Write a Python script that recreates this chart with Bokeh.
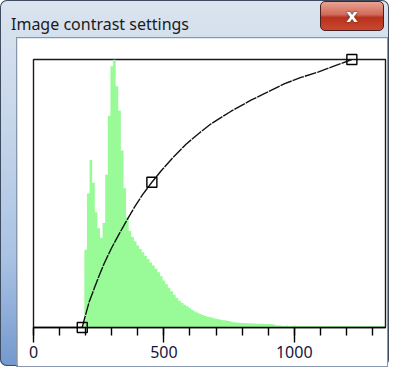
from bokeh.plotting import figure
from bokeh.models import Range1d, SingleIntervalTicker, Div, ColumnDataSource
from bokeh.layouts import column
from bokeh.embed import file_html
from bokeh.resources import INLINE

# ---- data ----
window_title = "Image contrast settings"
x_tick_interval = 500
x_max = 1350

# histogram: relative pixel counts, bins of width 10 starting at 195
hist_start = 195
hist_width = 10
hist_counts = [
    290, 500, 625, 540, 430, 370, 335, 390, 570, 790,
    975, 1000, 900, 810, 660, 520, 410, 360, 338, 322,
    306, 293, 281, 268, 256, 243, 231, 219, 206, 191,
    175, 161, 148, 135, 122, 111, 100, 92, 85, 79,
    72, 65, 60, 55, 50, 47, 43, 40, 38, 35,
    33, 31, 29, 27, 26, 24, 21, 20, 19, 18,
    17, 17, 16, 16, 15, 15, 14, 14, 14, 13,
    13, 13, 12, 8,
    7, 7, 6, 7, 6, 6, 7, 6, 6, 6,
    5, 6, 6, 6, 5, 6, 5, 6, 6, 5,
    5, 6, 5, 5, 6, 5, 5, 5, 6, 5,
    5, 4, 5, 5, 5, 4, 5, 5, 4, 5,
    4,
]

# contrast curve (input value -> output fraction)
curve_x = [187, 194, 213, 233, 252, 271, 298, 325, 355, 386, 417, 454, 489,
           535, 585, 635, 681, 758, 834, 899, 961, 1026, 1091, 1152, 1221]
curve_y = [0.0, 0.027, 0.094, 0.146, 0.194, 0.239, 0.294, 0.343, 0.395, 0.447,
           0.494, 0.542, 0.584, 0.634, 0.684, 0.725, 0.760, 0.807, 0.848, 0.879,
           0.909, 0.933, 0.953, 0.975, 1.0]

# control points
ctrl_x = [187, 454, 1221]
ctrl_y = [0.0, 0.542, 1.0]

# ---- figure ----
step_x = [hist_start + hist_width * i for i in range(len(hist_counts) + 1)]
step_y = hist_counts + [hist_counts[-1]]
hist_src = ColumnDataSource(dict(x=step_x, y2=step_y))

p = figure(width=370, height=328,
           x_range=Range1d(0, x_max), y_range=Range1d(0, max(hist_counts)),
           output_backend="svg", toolbar_location=None, y_axis_location=None,
           min_border_left=16, min_border_right=2, min_border_top=21,
           min_border_bottom=39, margin=(0, 2, 0, 17))
p.extra_y_ranges = {"out": Range1d(0, 1)}
p.grid.visible = False
p.background_fill_color = "white"
p.border_fill_color = "white"
p.outline_line_color = "#1a1a1a"
p.outline_line_width = 1.4
p.styles = {"outline": "1px solid #8796aa"}

p.varea_step(x="x", y1=0, y2="y2", step_mode="after", source=hist_src,
             fill_color="#98fb98")

p.line(curve_x, curve_y, y_range_name="out", line_color="#111111",
       line_width=1.4, line_dash="12 1")
sq = p.scatter(ctrl_x, ctrl_y, y_range_name="out", marker="square", size=10,
               fill_color=None, line_color="black", line_width=1.4)
sq.level = "overlay"

xa = p.xaxis[0]
xa.ticker = SingleIntervalTicker(interval=x_tick_interval, num_minor_ticks=5)
xa.axis_line_color = "black"
xa.axis_line_width = 1.4
xa.major_tick_line_color = "black"
xa.major_tick_line_width = 1.4
xa.minor_tick_line_color = "black"
xa.minor_tick_line_width = 1.4
xa.major_tick_out = 15
xa.major_tick_in = 0
xa.minor_tick_out = 8
xa.minor_tick_in = 0
xa.major_label_standoff = 3
xa.major_label_text_font = "Noto Sans"
xa.major_label_text_font_size = "16px"
xa.major_label_text_color = "#16163c"

title_html = (
    '<div style="position:relative;width:389px;height:38px;overflow:hidden;">'
    '<span style="position:absolute;left:11px;top:13px;font-family:\'Noto Sans\';'
    'font-size:16px;color:#1b1b1b;white-space:nowrap;">' + window_title + '</span>'
    '<div style="position:absolute;left:320px;top:1px;width:64px;height:30px;'
    'border:1px solid #4a2020;border-radius:5px;box-sizing:border-box;'
    'background:linear-gradient(180deg,#e9a393 0%,#d06a58 45%,#b8321f 55%,#c9482f 100%);'
    'color:white;font-family:\'DejaVu Sans\';font-weight:bold;font-size:18px;'
    'text-align:center;line-height:27px;text-shadow:0 0 2px #3a0a0a;">x</div>'
    '</div>'
)
title = Div(text=title_html, width=389, height=38, margin=(0, 0, 0, 0))

layout = column(title, p, spacing=0, styles={
    "background": "linear-gradient(180deg, #dbe4ef 0%, #c9d8eb 30%, #aac3e3 70%, #7499cf 100%)",
    "border-radius": "7px",
    "box-shadow": "inset 0 0 0 1px #3e4c60",
})

open("out.html", "w").write(file_html(layout, INLINE))
